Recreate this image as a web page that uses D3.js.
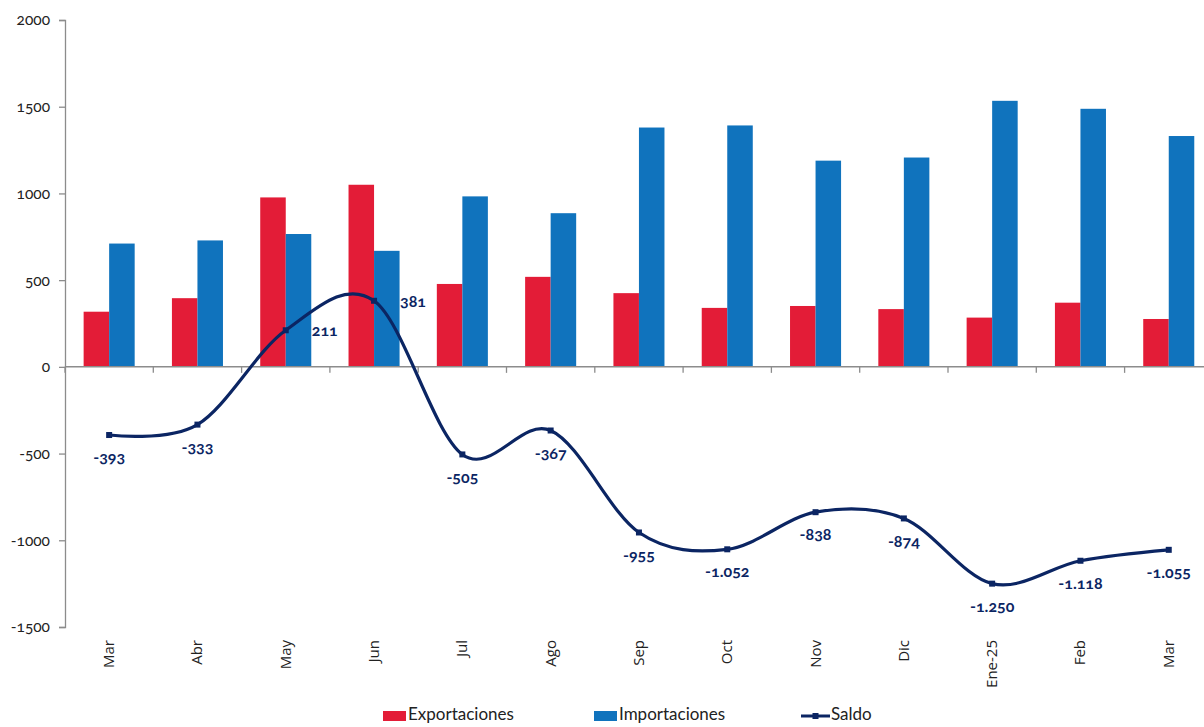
<!DOCTYPE html>
<html>
<head>
<meta charset="utf-8">
<script src="https://cdn.jsdelivr.net/npm/d3@7"></script>
<style>
  html, body { margin: 0; padding: 0; background: #fff; }
  svg { display: block; }
  .num { font-feature-settings: "onum"; font-variant-numeric: oldstyle-nums; }
</style>
</head>
<body>
<svg id="chart" width="1204" height="727"></svg>
<script>
// Monthly trade: exports, imports and balance
const months = ["Mar", "Abr", "May", "Jun", "Jul", "Ago", "Sep", "Oct", "Nov", "Dic", "Ene-25", "Feb", "Mar"];
const exportaciones = [318, 396, 977, 1050, 478, 519, 425, 340, 351, 333, 284, 370, 276];
const importaciones = [711, 729, 766, 669, 983, 886, 1380, 1392, 1189, 1207, 1534, 1488, 1331];
const saldo = [-393, -333, 211, 381, -505, -367, -955, -1052, -838, -874, -1250, -1118, -1055];
const labelSide = ["below", "below", "right", "right", "below", "below", "below", "below", "below", "below", "below", "below", "below"];
const yTicks = [2000, 1500, 1000, 500, 0, -500, -1000, -1500];
const seriesNames = ["Exportaciones", "Importaciones", "Saldo"];

const colors = { exp: "#e31c37", imp: "#1073bd", line: "#0b2563", axis: "#8c8c8c", text: "#222" };

const svg = d3.select("#chart");
const margin = { left: 65, top: 20 };
const bandW = 88.3;
const keys = months.map((m, i) => i);

const x = d3.scaleBand().domain(keys).range([margin.left, margin.left + bandW * months.length]).paddingInner(0).paddingOuter(0);
const y = d3.scaleLinear().domain([-1500, 2000]).range([627, 20]);

const sub = d3.scaleBand().domain(["exp", "imp"]).range([0, x.bandwidth()]).paddingInner(0).paddingOuter(0.73);

const locale = d3.formatLocale({ decimal: ",", thousands: ".", grouping: [3], currency: ["$", ""], minus: "-" });
const fmt = locale.format(",d");

// Bars
const groups = svg.append("g").selectAll("g").data(keys).join("g")
  .attr("transform", i => `translate(${x(i)},0)`);

groups.append("rect")
  .attr("x", sub("exp")).attr("width", sub.bandwidth())
  .attr("y", i => y(exportaciones[i])).attr("height", i => y(0) - y(exportaciones[i]))
  .attr("fill", colors.exp);

groups.append("rect")
  .attr("x", sub("imp")).attr("width", sub.bandwidth())
  .attr("y", i => y(importaciones[i])).attr("height", i => y(0) - y(importaciones[i]))
  .attr("fill", colors.imp);

// Y axis
const yAxis = d3.axisLeft(y).tickValues(yTicks).tickSize(6).tickPadding(9).tickFormat(d3.format("d"));
const yg = svg.append("g").attr("transform", `translate(${margin.left},0)`).call(yAxis);
yg.select(".domain").attr("stroke", colors.axis).attr("stroke-width", 1.3);
yg.selectAll(".tick line").attr("stroke", colors.axis).attr("stroke-width", 1.3);
yg.selectAll(".tick text")
  .attr("class", "num")
  .attr("fill", colors.text)
  .style("font-family", "Lato, 'Open Sans', sans-serif")
  .style("font-size", "15.5px")
  .text(d => d3.format("d")(d).replace("−", "-"));

// X axis along zero line
const xg = svg.append("g").attr("transform", `translate(0,${y(0)})`);
xg.append("line")
  .attr("x1", margin.left).attr("x2", margin.left + bandW * months.length)
  .attr("stroke", colors.axis).attr("stroke-width", 1.5);
xg.selectAll("line.tk").data(d3.range(months.length + 1)).join("line")
  .attr("class", "tk")
  .attr("x1", k => margin.left + k * bandW).attr("x2", k => margin.left + k * bandW)
  .attr("y1", 0).attr("y2", 6)
  .attr("stroke", colors.axis).attr("stroke-width", 1.3);

// Category labels, rotated, below the plot
svg.append("g").selectAll("text").data(keys).join("text")
  .attr("transform", i => `translate(${x(i) + x.bandwidth() / 2 + 5},640) rotate(-90)`)
  .attr("text-anchor", "end")
  .attr("fill", colors.text)
  .style("font-family", "'Open Sans', Lato, sans-serif")
  .style("font-size", "15px")
  .text(i => months[i]);

// Balance line (smoothed)
const cx = i => x(i) + x.bandwidth() / 2;
const line = d3.line().x(i => cx(i)).y(i => y(saldo[i])).curve(d3.curveCardinal.tension(0));
svg.append("path").datum(keys)
  .attr("d", line)
  .attr("fill", "none")
  .attr("stroke", colors.line)
  .attr("stroke-width", 3.2);

svg.append("g").selectAll("rect").data(keys).join("rect")
  .attr("x", i => cx(i) - 3).attr("y", i => y(saldo[i]) - 3)
  .attr("width", 6).attr("height", 6)
  .attr("fill", colors.line);

// Balance value labels
svg.append("g").selectAll("text").data(keys).join("text")
  .attr("class", "num")
  .attr("x", i => labelSide[i] === "right" ? cx(i) + 26 : cx(i))
  .attr("y", i => labelSide[i] === "right" ? y(saldo[i]) + 2 : y(saldo[i]) + 24)
  .attr("text-anchor", i => labelSide[i] === "right" ? "start" : "middle")
  .attr("dominant-baseline", "middle")
  .attr("fill", colors.line)
  .style("font-family", "Lato, 'Open Sans', sans-serif")
  .style("font-weight", "bold")
  .style("font-size", "16px")
  .text(i => fmt(saldo[i]));

// Legend
const lg = svg.append("g").style("font-family", "Lato, 'Open Sans', sans-serif").style("font-size", "17px");
const legendItems = [
  { name: seriesNames[0], x: 383, type: "rect", color: colors.exp },
  { name: seriesNames[1], x: 594, type: "rect", color: colors.imp },
  { name: seriesNames[2], x: 801, type: "line", color: colors.line }
];
const ly = 716;
legendItems.forEach(it => {
  if (it.type === "rect") {
    lg.append("rect").attr("x", it.x).attr("y", ly - 5).attr("width", 23).attr("height", 10).attr("fill", it.color);
    lg.append("text").attr("x", it.x + 25).attr("y", ly).attr("dominant-baseline", "middle").attr("fill", colors.text).text(it.name);
  } else {
    lg.append("line").attr("x1", it.x).attr("x2", it.x + 29).attr("y1", ly).attr("y2", ly).attr("stroke", it.color).attr("stroke-width", 3);
    lg.append("rect").attr("x", it.x + 11.5).attr("y", ly - 3).attr("width", 6).attr("height", 6).attr("fill", it.color);
    lg.append("text").attr("x", it.x + 30).attr("y", ly).attr("dominant-baseline", "middle").attr("fill", colors.text).text(it.name);
  }
});
</script>
</body>
</html>
